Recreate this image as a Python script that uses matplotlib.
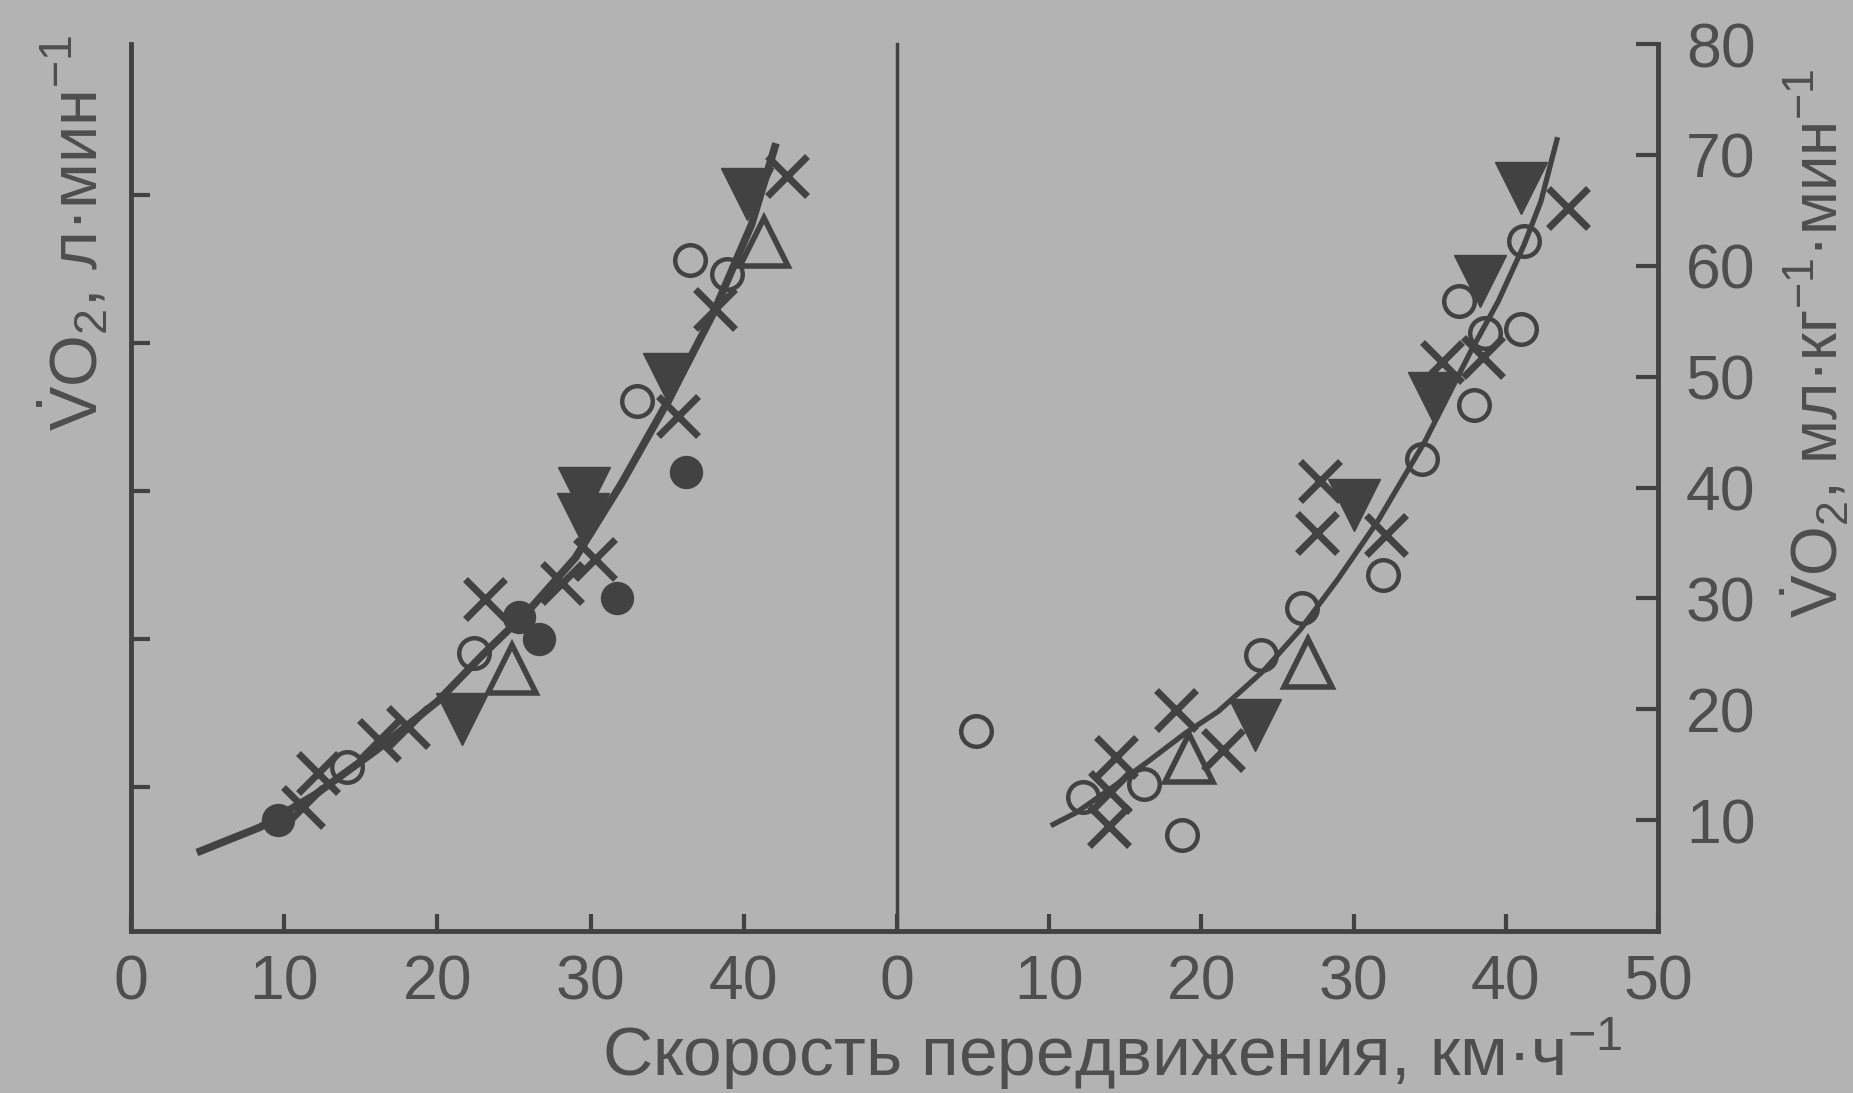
import matplotlib
matplotlib.use("Agg")
import matplotlib.pyplot as plt

# --- Data ---
# Left panel: VO2 in l/min vs speed in km/h
left_curve_x = [4.3, 8.4, 12.0, 16.0, 20.0, 23.0, 26.0, 29.0, 32.0, 35.0, 38.0, 40.5, 42.1]
left_curve_y = [0.56, 0.73, 0.95, 1.25, 1.58, 1.90, 2.20, 2.55, 3.05, 3.60, 4.20, 4.80, 5.35]

left_dot_x = [9.6, 25.3, 26.6, 31.7, 36.2]
left_dot_y = [0.78, 2.15, 2.00, 2.28, 3.13]

left_cross_x = [11.2, 12.2, 16.2, 18.1, 23.1, 28.1, 30.3, 35.7, 38.1, 42.8]
left_cross_y = [0.87, 1.10, 1.32, 1.41, 2.27, 2.38, 2.54, 3.51, 4.23, 5.13]

left_ring_x = [14.1, 22.4, 33.0, 36.5, 38.9]
left_ring_y = [1.14, 1.91, 3.61, 4.56, 4.47]

left_tri_down_x = [21.6, 29.6, 29.5, 35.1, 40.2]
left_tri_down_y = [1.46, 2.99, 2.81, 3.76, 5.01]

left_tri_up_x = [24.9, 41.3]
left_tri_up_y = [1.80, 4.68]

# Right panel: VO2 in ml/kg/min vs speed in km/h
right_curve_x = [10.1, 11.8, 14.4, 16.5, 19.0, 21.1, 24.1, 26.5, 29.0, 31.6, 34.7, 37.7, 39.5, 41.2, 42.3, 43.4]
right_curve_y = [9.5, 10.7, 13.2, 15.3, 17.9, 19.8, 23.5, 27.2, 31.8, 37.0, 44.2, 52.3, 56.8, 61.9, 65.8, 71.6]

right_ring_x = [5.2, 12.25, 16.2, 18.7, 23.9, 26.6, 31.9, 34.5, 37.9, 36.9, 41.0, 38.6, 41.2]
right_ring_y = [18.0, 12.1, 13.3, 8.7, 24.9, 29.1, 32.1, 42.6, 47.4, 56.8, 54.3, 53.9, 62.2]

right_cross_x = [13.9, 14.0, 14.4, 18.3, 21.4, 27.6, 27.8, 32.1, 35.8, 38.5, 44.1]
right_cross_y = [9.5, 12.5, 15.7, 19.9, 16.3, 35.9, 40.6, 35.7, 51.3, 51.8, 65.2]

right_tri_down_x = [23.5, 30.0, 35.3, 38.3, 41.0]
right_tri_down_y = [18.6, 38.4, 48.1, 58.6, 67.0]

right_tri_up_x = [19.2, 27.0]
right_tri_up_y = [15.6, 24.2]

x_ticks_left = [0, 10, 20, 30, 40]
x_ticks_right = [0, 10, 20, 30, 40, 50]
y_ticks_left = [1, 2, 3, 4, 5]
y_ticks_right = [10, 20, 30, 40, 50, 60, 70, 80]

# --- Style ---
plt.rcParams['font.family'] = ['Liberation Sans', 'DejaVu Sans']
plt.rcParams['mathtext.fontset'] = 'custom'
plt.rcParams['mathtext.rm'] = 'Liberation Sans'
plt.rcParams['mathtext.it'] = 'Liberation Sans:italic'

BG = '#b3b3b3'
INK = '#424242'
TEXT = '#4e4e4e'


def draw_points(ax, x, y, kind):
    if kind == 'dot':
        ax.plot(x, y, ls='none', marker='o', ms=23, mfc=INK, mec=INK, mew=1, zorder=4)
    elif kind == 'ring':
        ax.plot(x, y, ls='none', marker='o', ms=22, mfc='none', mec=INK, mew=3.2, zorder=4)
    elif kind == 'cross':
        ax.plot(x, y, ls='none', marker='x', ms=29, mec=INK, mew=5, zorder=4)
    elif kind == 'tri_down':
        ax.plot(x, y, ls='none', marker='v', ms=38, mfc=INK, mec=INK, mew=1, zorder=4)
    elif kind == 'tri_up':
        ax.plot(x, y, ls='none', marker='^', ms=34, mfc='none', mec=INK, mew=4, zorder=4)


fig = plt.figure(figsize=(18.53, 10.93), dpi=100, facecolor=BG)
ax1 = fig.add_axes([0.0707, 0.1482, 0.4134, 0.8115])
ax2 = fig.add_axes([0.4841, 0.1482, 0.4107, 0.8115])

for ax in (ax1, ax2):
    ax.set_facecolor('none')
    ax.spines['top'].set_visible(False)
    for side in ('left', 'bottom', 'right'):
        ax.spines[side].set_color(INK)
        ax.spines[side].set_linewidth(3.5)
    ax.set_xlim(0, 50)

# --- Left panel ---
ax1.spines['right'].set_visible(False)
ax1.plot(left_curve_x, left_curve_y, color=INK, lw=5.5, solid_capstyle='butt', zorder=3)
draw_points(ax1, left_dot_x, left_dot_y, 'dot')
draw_points(ax1, left_cross_x, left_cross_y, 'cross')
draw_points(ax1, left_ring_x, left_ring_y, 'ring')
draw_points(ax1, left_tri_down_x, left_tri_down_y, 'tri_down')
draw_points(ax1, left_tri_up_x, left_tri_up_y, 'tri_up')
ax1.set_ylim(0.03, 6.02)
ax1.set_xticks(x_ticks_left)
ax1.set_xticklabels([str(t) for t in x_ticks_left])
ax1.set_yticks(y_ticks_left)
ax1.set_yticklabels([])
ax1.tick_params(axis='x', direction='in', length=12, width=3, color=INK,
                labelsize=45, labelcolor=TEXT, pad=16)
ax1.tick_params(axis='y', direction='in', length=14, width=3, color=INK)

# --- Right panel ---
ax2.spines['left'].set_linewidth(2.5)
ax2.plot(right_curve_x, right_curve_y, color=INK, lw=3.8, solid_capstyle='butt', zorder=3)
draw_points(ax2, right_ring_x, right_ring_y, 'ring')
draw_points(ax2, right_cross_x, right_cross_y, 'cross')
draw_points(ax2, right_tri_down_x, right_tri_down_y, 'tri_down')
draw_points(ax2, right_tri_up_x, right_tri_up_y, 'tri_up')
ax2.set_ylim(0, 80)
ax2.set_xticks(x_ticks_right)
ax2.set_xticklabels([str(t) for t in x_ticks_right])
ax2.set_yticks(y_ticks_right)
ax2.set_yticklabels([str(t) for t in y_ticks_right])
ax2.yaxis.tick_right()
ax2.tick_params(axis='x', direction='in', length=12, width=3, color=INK,
                labelsize=45, labelcolor=TEXT, pad=16)
ax2.tick_params(axis='y', direction='in', length=16, width=3, color=INK,
                labelsize=45, labelcolor=TEXT, pad=20, left=False, right=True)

# --- Axis titles ---
fig.text(0.600, 0.036, 'Скорость передвижения, км·ч$^{-1}$', fontsize=50,
         color=TEXT, ha='center', va='center')
fig.text(0.040, 0.787, r'$\dot{\mathrm{V}}$O$_2$, л·мин$^{-1}$', fontsize=48,
         color=TEXT, ha='center', va='center', rotation=90)
fig.text(0.980, 0.686, r'$\dot{\mathrm{V}}$O$_2$, мл·кг$^{-1}$·мин$^{-1}$', fontsize=46,
         color=TEXT, ha='center', va='center', rotation=90)

fig.savefig('out.png', dpi=100, facecolor=BG)
